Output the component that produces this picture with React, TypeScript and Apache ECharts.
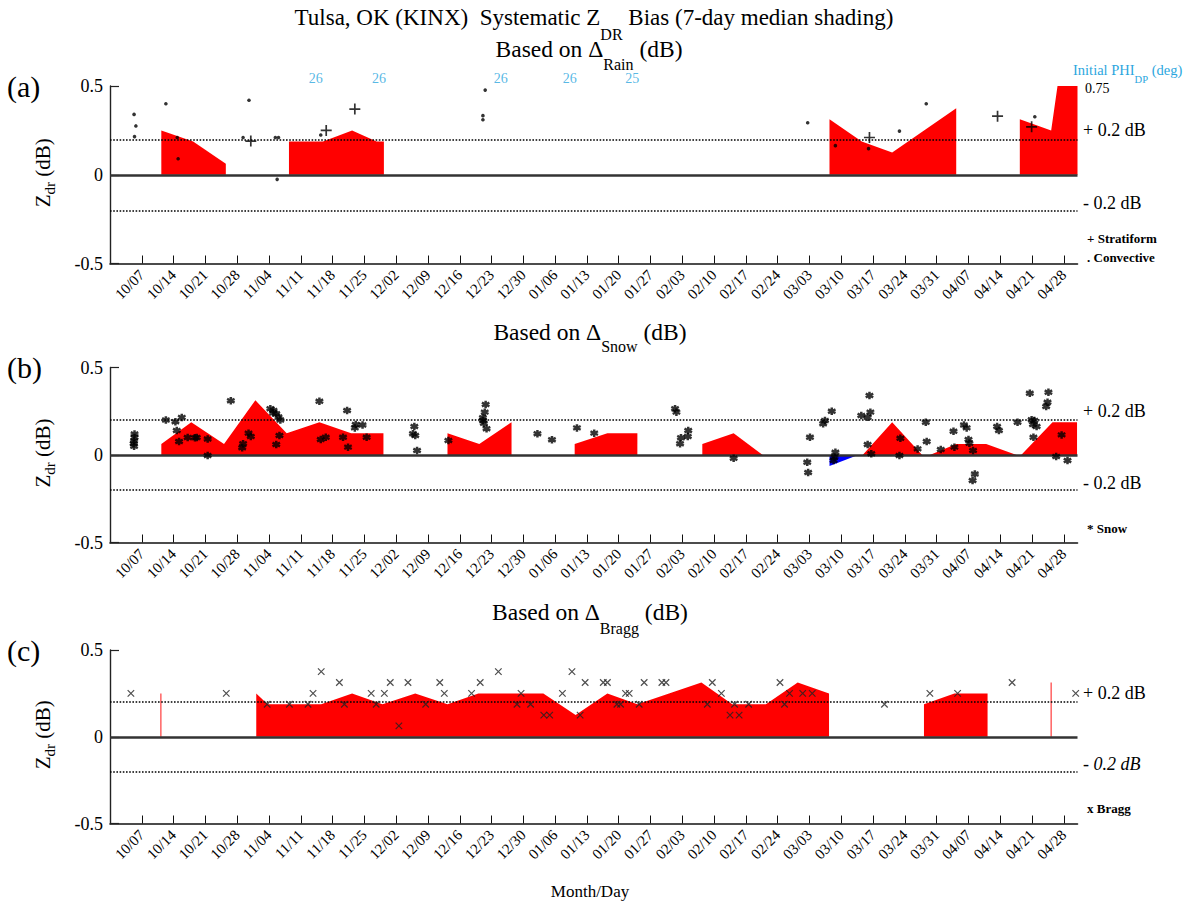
import { useEffect, useRef } from "react";
import * as echarts from "echarts";

const SERIF = "'Liberation Serif', 'Times New Roman', Times, serif";
const RED = "#ff0000";
const BLUE = "#0000ff";
const PHI_BLUE = "#2ba6de";

// x values are days after Sep 30 (day 0); 10/07 is day 7 and 04/28 is day 210.
const DAY_MIN = 0;
const DAY_MAX = 213;
const tickLabels = [
  "10/07", "10/14", "10/21", "10/28", "11/04", "11/11", "11/18", "11/25",
  "12/02", "12/09", "12/16", "12/23", "12/30", "01/06", "01/13", "01/20",
  "01/27", "02/03", "02/10", "02/17", "02/24", "03/03", "03/10", "03/17",
  "03/24", "03/31", "04/07", "04/14", "04/21", "04/28",
];
const tickDays = tickLabels.map((_, i) => 7 * (i + 1));

// (a) rain-based estimates: 7-day medians (one array per contiguous run) and daily values
const rainMedianSegments: number[][][] = [
  [[11.3, 0.25], [18.3, 0.1875], [25.5, 0.0625]],
  [[39.4, 0.1875], [46.9, 0.1875], [53.3, 0.25], [58.7, 0.1875], [60.3, 0.1875]],
  [[158.4, 0.3125], [165.5, 0.1875], [172.2, 0.125], [186.3, 0.375]],
  [[200.3, 0.3125], [207.2, 0.25], [210, 0.75], [213, 0.75]],
];
const rainStratiform: number[][] = [
  [31, 0.19], [47.6, 0.25], [53.9, 0.37], [167.2, 0.21], [195.4, 0.33], [202.9, 0.27],
];
const rainConvective: number[][] = [
  [5.3, 0.34], [5.7, 0.275], [5.4, 0.215], [12.3, 0.4], [14.8, 0.21], [15, 0.09],
  [30.6, 0.42], [29.3, 0.21], [36.4, 0.21], [37.1, 0.21], [36.8, -0.026], [46.4, 0.224],
  [82.6, 0.477], [82.1, 0.333], [82.1, 0.31], [153.6, 0.293], [159.7, 0.164],
  [167, 0.147], [173.8, 0.246], [179.7, 0.4], [203.6, 0.327],
];
// initial differential phase (deg) noted above the rain panel
const phiDays = [45.3, 59.2, 86, 101.2, 115];
const phiLabels = ["26", "26", "26", "26", "25"];

// (b) snow-based estimates
const snowMedianSegments: number[][][] = [
  [[11.3, 0.0625], [17.9, 0.1875], [25.1, 0.0625], [32, 0.3125], [38.9, 0.125],
   [46.1, 0.1875], [53.1, 0.125], [60.2, 0.125]],
  [[74.3, 0.125], [81.3, 0.0625], [88.4, 0.1875]],
  [[102.3, 0.0625], [109.5, 0.125], [116.1, 0.125]],
  [[130.4, 0.0625], [137.3, 0.125], [143.7, 0]],
  [[165.7, 0], [172.2, 0.1875], [178.8, 0], [180.5, 0], [186.3, 0.0625], [192.9, 0.0625],
   [199.6, 0], [200.6, 0], [207.5, 0.1875], [212.9, 0.1875]],
];
const snowNegativeMedian: number[][] = [[158.4, -0.0625], [164.7, 0]];
const snowPoints: number[][] = [
  [5.4, 0.12], [5.4, 0.1], [5.3, 0.08], [5.2, 0.065], [5.3, 0.05],
  [12.3, 0.2], [14.4, 0.19], [15.8, 0.215], [14.7, 0.14], [15.2, 0.077], [17.1, 0.1],
  [18.7, 0.098], [19.1, 0.1], [21.5, 0.092], [21.5, -0.003],
  [26.6, 0.31], [29.3, 0.064], [29.1, 0.041], [30.5, 0.125], [31, 0.106],
  [35.3, 0.264], [36, 0.255], [36.6, 0.236], [37.1, 0.217], [37.5, 0.2], [35.9, 0.24],
  [36.6, 0.06], [37.3, 0.111],
  [46.1, 0.307], [46.4, 0.089], [47.5, 0.102], [51.3, 0.102], [52.2, 0.254], [52.4, 0.045],
  [53.9, 0.155], [54.1, 0.174], [55.6, 0.172], [56.5, 0.102],
  [67, 0.163], [66.7, 0.121], [67.2, 0.111], [67.6, 0.026], [74.5, 0.083],
  [82.7, 0.289], [82.5, 0.245], [82.1, 0.213], [82.1, 0.197], [82.3, 0.182], [82.9, 0.15],
  [94.1, 0.121], [97.3, 0.087], [102.8, 0.155], [106.6, 0.125],
  [124.4, 0.264], [124.7, 0.245], [125.7, 0.098], [125.5, 0.064], [127.3, 0.14], [127.2, 0.106],
  [137.3, -0.018],
  [153.5, -0.041], [153.7, -0.1], [154.1, 0.102], [157, 0.178], [157.4, 0.197], [158.9, 0.25],
  [159.7, 0.016], [159.5, -0.012], [159.3, -0.031],
  [165.4, 0.226], [166.8, 0.216], [167.4, 0.245], [167.2, 0.34], [166.8, 0.06], [167.6, 0.007],
  [174, 0.096], [173.8, -0.003], [177.8, 0.035], [179.6, 0.187], [179.8, 0.077], [182.9, 0.031],
  [185.7, 0.136], [185.9, 0.045], [188, 0.172], [188.6, 0.155], [189, 0.089], [189.2, 0.067],
  [190, 0.026], [190.4, -0.108], [189.9, -0.146],
  [195.3, 0.163], [195.7, 0.14], [199.8, 0.187],
  [202.5, 0.353], [202.9, 0.201], [203.5, 0.197], [203.2, 0.174], [204, 0.163], [203.3, 0.102],
  [206.6, 0.359], [206.4, 0.302], [206.1, 0.277], [209.5, 0.115], [208.3, -0.009], [210.8, -0.031],
];

// (c) Bragg-scatter estimates
const braggMedianSegments: number[][][] = [
  [[32.2, 0.25], [34.7, 0.1875], [46.5, 0.1875], [53.3, 0.25], [60, 0.1875], [67.2, 0.25],
   [74.3, 0.1875], [81.1, 0.25], [95.4, 0.25], [102.5, 0.125], [109.5, 0.25], [116.1, 0.1875],
   [130.2, 0.3125], [137, 0.1875], [144.4, 0.1875], [151.4, 0.3125], [158.3, 0.25]],
  [[179.2, 0.1875], [185.9, 0.25], [193.2, 0.25]],
];
// weeks holding a single Bragg day
const braggSingleWeeks: number[][] = [[11.2, 0.25], [207.2, 0.3125]];
const braggPoints: number[][] = [
  [4.6, 0.25], [25.6, 0.25], [34.6, 0.1875], [39.5, 0.1875], [43.6, 0.1875], [44.7, 0.25],
  [46.5, 0.375], [50.5, 0.3125], [51.6, 0.1875], [57.5, 0.25], [58.6, 0.1875], [60.4, 0.25],
  [61.7, 0.3125], [63.6, 0.0625], [65.6, 0.3125], [69.5, 0.1875], [72.6, 0.3125], [73.6, 0.25],
  [79.6, 0.25], [81.5, 0.3125], [85.5, 0.375], [89.6, 0.1875], [90.5, 0.25], [92.6, 0.1875],
  [95.5, 0.125], [96.8, 0.125], [99.6, 0.25], [101.7, 0.375], [103.5, 0.125], [104.6, 0.3125],
  [108.6, 0.3125], [109.5, 0.3125], [111.6, 0.1875], [112.4, 0.1875], [113.5, 0.25], [114.3, 0.25],
  [116.5, 0.1875], [117.6, 0.3125], [121.5, 0.3125], [122.4, 0.3125], [131.5, 0.1875],
  [132.6, 0.3125], [134.6, 0.25], [136.5, 0.125], [138.5, 0.125], [137.5, 0.1875], [140.6, 0.1875],
  [147.5, 0.3125], [148.5, 0.1875], [149.6, 0.25], [152.5, 0.25], [154.6, 0.25], [170.5, 0.1875],
  [180.5, 0.25], [186.6, 0.25], [198.6, 0.3125], [212.6, 0.25],
];

// ---- layout ----
const GRID_LEFT = 110;
const GRID_WIDTH = 967.5;
const PANELS = [
  { top: 86, height: 177.5 },
  { top: 367.5, height: 175 },
  { top: 650, height: 173.5 },
];
const yAt = (panel: number, v: number) => PANELS[panel].top + (0.5 - v) * PANELS[panel].height;
const PHI_ROW = 0.545;

const PLUS = "path://M5,0L5,10M0,5L10,5";
const CROSS = "path://M0,0L10,10M10,0L0,10";
const STAR = "path://M5,0L5,10M0.67,2.5L9.33,7.5M0.67,7.5L9.33,2.5";

const DOTTED = { type: [1.6, 1.6], color: "#000", width: 1.5 };

function guides() {
  return {
    silent: true,
    symbol: ["none", "none"],
    label: { show: false },
    emphasis: { disabled: true },
    animation: false,
    data: [
      { yAxis: 0.2, lineStyle: DOTTED },
      { yAxis: -0.2, lineStyle: DOTTED },
      { yAxis: 0, lineStyle: { type: "solid", color: "#333", width: 2.6 } },
    ],
  };
}

function area(panel: number, data: number[][], color: string) {
  return {
    type: "line",
    xAxisIndex: panel,
    yAxisIndex: panel,
    data,
    symbol: "none",
    showSymbol: false,
    lineStyle: { width: 0, color },
    itemStyle: { color },
    areaStyle: { color, opacity: 1 },
    silent: true,
    z: 2,
  };
}

function rich(main: number, sub: number, pad: number, fill = "#000") {
  return {
    m: { fontSize: main, lineHeight: main + 3, verticalAlign: "top", fontFamily: SERIF, fill },
    s: { fontSize: sub, lineHeight: sub + 1, padding: [pad, 0, 0, 0], verticalAlign: "top", fontFamily: SERIF, fill },
  };
}

function text(x: number, y: number, t: string, style: any = {}, extra: any = {}) {
  return {
    type: "text",
    x,
    y,
    silent: true,
    ...extra,
    style: { text: t, fontFamily: SERIF, fontSize: 18, fill: "#000", verticalAlign: "middle", ...style },
  };
}

function buildOption() {
  const grid = PANELS.map((p) => ({
    left: GRID_LEFT,
    width: GRID_WIDTH,
    top: p.top,
    height: p.height,
    containLabel: false,
    outerBoundsMode: "none",
  }));

  const xAxis = PANELS.map((_, i) => ({
    type: "value",
    gridIndex: i,
    min: DAY_MIN,
    max: DAY_MAX,
    axisLine: { onZero: false, lineStyle: { color: "#111", width: 1.6 } },
    axisTick: { inside: true, length: 8, customValues: tickDays, lineStyle: { color: "#111", width: 1 } },
    axisLabel: {
      customValues: tickDays,
      rotate: 45,
      margin: 9,
      fontSize: 15,
      fontFamily: SERIF,
      color: "#000",
      formatter: (v: number) => tickLabels[Math.round(v / 7) - 1] ?? "",
    },
    splitLine: { show: false },
  }));

  const yAxis = PANELS.map((_, i) => ({
    type: "value",
    gridIndex: i,
    min: -0.5,
    max: 0.5,
    interval: 0.5,
    axisLine: { show: true, onZero: false, lineStyle: { color: "#222", width: 1.4 } },
    axisTick: { show: true, inside: true, length: 9, lineStyle: { color: "#222", width: 1.2 } },
    axisLabel: { fontSize: 18, fontFamily: SERIF, color: "#000", margin: 7, formatter: (v: number) => String(v) },
    splitLine: { show: false },
  }));

  const series: any[] = [];
  rainMedianSegments.forEach((s) => series.push(area(0, s, RED)));
  snowMedianSegments.forEach((s) => series.push(area(1, s, RED)));
  series.push(area(1, snowNegativeMedian, BLUE));
  braggMedianSegments.forEach((s) => series.push(area(2, s, RED)));
  series.push({
    type: "bar",
    xAxisIndex: 2,
    yAxisIndex: 2,
    data: braggSingleWeeks,
    barWidth: 1.3,
    itemStyle: { color: "#ff4a4a" },
    silent: true,
    z: 2,
  });

  // panel (a) markers
  series.push({
    type: "scatter", xAxisIndex: 0, yAxisIndex: 0, data: rainConvective,
    symbol: "circle", symbolSize: 3.6, itemStyle: { color: "#000" }, silent: true, z: 6,
    markLine: guides(),
  });
  series.push({
    type: "scatter", xAxisIndex: 0, yAxisIndex: 0, data: rainStratiform,
    symbol: PLUS, symbolSize: 11, itemStyle: { color: "transparent", borderColor: "#000", borderWidth: 1.7 },
    silent: true, z: 6,
  });
  series.push({
    type: "scatter", xAxisIndex: 0, yAxisIndex: 0, clip: false,
    data: phiDays.map((d, i) => ({ value: [d, PHI_ROW], label: { formatter: phiLabels[i] } })),
    symbolSize: 1, itemStyle: { color: "rgba(0,0,0,0)" }, silent: true, z: 6,
    label: { show: true, position: "inside", color: PHI_BLUE, fontSize: 14, fontFamily: SERIF },
  });

  // panel (b) markers
  series.push({
    type: "scatter", xAxisIndex: 1, yAxisIndex: 1, data: snowPoints,
    symbol: STAR, symbolSize: 7.5, itemStyle: { color: "#000", borderColor: "#000", borderWidth: 2.5 },
    silent: true, z: 6, markLine: guides(),
  });

  // panel (c) markers
  series.push({
    type: "scatter", xAxisIndex: 2, yAxisIndex: 2, data: braggPoints,
    symbol: CROSS, symbolSize: 6.5, itemStyle: { color: "transparent", borderColor: "#222", borderWidth: 1.2 },
    silent: true, z: 6, markLine: guides(),
  });

  const graphic: any[] = [
    text(594, 6, "{m|Tulsa, OK (KINX)  Systematic Z}{s|DR}{m| Bias (7-day median shading)}", {
      align: "center", verticalAlign: "top", rich: rich(23, 16, 20),
    }),
    text(589, 37, "{m|Based on Δ}{s|Rain}{m| (dB)}", { align: "center", verticalAlign: "top", rich: rich(23.5, 16, 19) }),
    text(590, 320, "{m|Based on Δ}{s|Snow}{m| (dB)}", { align: "center", verticalAlign: "top", rich: rich(23.5, 16, 18) }),
    text(590, 600, "{m|Based on Δ}{s|Bragg}{m| (dB)}", { align: "center", verticalAlign: "top", rich: rich(23.5, 16, 20) }),
    text(7, yAt(0, 0.5), "(a)", { fontSize: 30 }),
    text(7, yAt(1, 0.5), "(b)", { fontSize: 30 }),
    text(7, yAt(2, 0.5), "(c)", { fontSize: 30 }),
    text(1083, yAt(0, 0.2) - 9, "+ 0.2 dB"),
    text(1083, yAt(0, -0.2) - 7, "- 0.2 dB"),
    text(1083, yAt(1, 0.2) - 9, "+ 0.2 dB"),
    text(1083, yAt(1, -0.2) - 7, "- 0.2 dB"),
    text(1083, yAt(2, 0.2) - 9, "+ 0.2 dB"),
    text(1083, yAt(2, -0.2) - 7, "- 0.2 dB", { fontStyle: "italic" }),
    text(1087, 238, "+ Stratiform", { fontSize: 13, fontWeight: "bold" }),
    text(1087, 257, ". Convective", { fontSize: 13, fontWeight: "bold" }),
    text(1087, 528, "* Snow", { fontSize: 13, fontWeight: "bold" }),
    text(1087, 808, "x Bragg", { fontSize: 13, fontWeight: "bold" }),
    text(1073, 62, "{m|Initial PHI}{s|DP}{m| (deg)}", { verticalAlign: "top", rich: rich(14.5, 10.5, 12, PHI_BLUE), fill: PHI_BLUE }),
    text(1085, 88, "0.75", { fontSize: 14 }),
    text(590, 891, "Month/Day", { fontSize: 17, align: "center" }),
  ];
  PANELS.forEach((_, i) => {
    graphic.push(
      text(44, yAt(i, 0) - 2, "{m|Z}{s|dr}{m| (dB)}", { align: "center", verticalAlign: "middle", rich: rich(21, 15, 10) }, { rotation: Math.PI / 2 }),
    );
  });

  return {
    animation: false,
    backgroundColor: "#ffffff",
    grid,
    xAxis,
    yAxis,
    series,
    graphic,
  };
}

export default function App() {
  const ref = useRef<HTMLDivElement>(null);
  useEffect(() => {
    if (!ref.current) return;
    const chart = echarts.init(ref.current, null, { renderer: "svg" });
    chart.setOption(buildOption() as any);
    return () => chart.dispose();
  }, []);
  return (
    <div
      ref={ref}
      style={{ position: "fixed", left: 0, top: 0, width: 1192, height: 906, background: "#fff" }}
    />
  );
}
